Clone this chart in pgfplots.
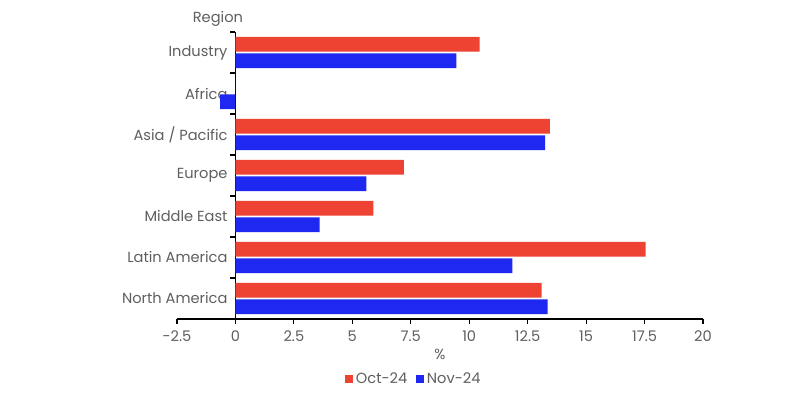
\documentclass[border=0pt]{standalone}
\usepackage{pgfplots}
\pgfplotsset{compat=1.18}
\usepackage{fontspec}
\setmainfont{Poppins}
\definecolor{barred}{RGB}{238,66,50}
\definecolor{barblue}{RGB}{30,40,240}
\definecolor{txt}{RGB}{95,95,95}
\begin{document}
\begin{tikzpicture}[x=1cm,y=1cm]
\path[use as bounding box, fill=white] (-4.425,-2.025) rectangle (15.575,7.975);
\begin{axis}[
  at={(0,0)}, anchor=south west,
  scale only axis, width=13.15cm, height=7.175cm,
  xmin=-2.5, xmax=20, ymin=-0.5, ymax=6.5,
  axis x line=bottom, axis y line=middle,
  axis line style={-, black, line width=0.8pt},
  hide obscured x ticks=false,
  xtick={-2.5,0,2.5,5,7.5,10,12.5,15,17.5,20},
  xticklabels={-2.5,0,2.5,5,7.5,10,12.5,15,17.5,20},
  ytick={0,1,2,3,4,5,6},
  yticklabels={North America,Latin America,Middle East,Europe,Asia / Pacific,Africa,Industry},
  minor ytick={-0.5,0.5,1.5,2.5,3.5,4.5,5.5,6.5},
  major y tick style={draw=none},
  tick align=outside,
  major tick length=0.125cm, minor tick length=0.125cm,
  tick style={black, line width=0.8pt},
  ticklabel style={font=\fontsize{10.4}{12}\selectfont, text=txt},
  xticklabel style={yshift=-0.05cm},
  yticklabel style={xshift=0.05cm},
  /pgf/number format/assume math mode=true,
  xlabel={\%}, xlabel style={font=\fontsize{10.4}{12}\selectfont, text=txt, yshift=0.05cm},
  xbar, bar width=0.36,
  legend style={at={(0.451,-0.165)}, anchor=north, draw=none, legend columns=2,
    font=\fontsize{10.4}{12}\selectfont, text=txt,
    /tikz/every even column/.append style={column sep=0.15cm}},
  legend image code/.code={\fill[#1] (0cm,-0.1cm) rectangle (0.2cm,0.1cm);},
  clip=false,
]
\addplot[draw=none, fill=barred, bar shift=0.2] coordinates {
  (13.1,0) (17.55,1) (5.9,2) (7.2,3) (13.45,4) (0,5) (10.45,6)};
\addplot[draw=none, fill=barblue, bar shift=-0.2] coordinates {
  (13.35,0) (11.85,1) (3.6,2) (5.6,3) (13.25,4) (-0.65,5) (9.45,6)};
\legend{Oct-24,Nov-24}
\node[font=\fontsize{10.4}{12}\selectfont, text=txt] at (axis cs:-0.75,6.5) [yshift=0.33cm] {Region};
\end{axis}
\end{tikzpicture}
\end{document}
